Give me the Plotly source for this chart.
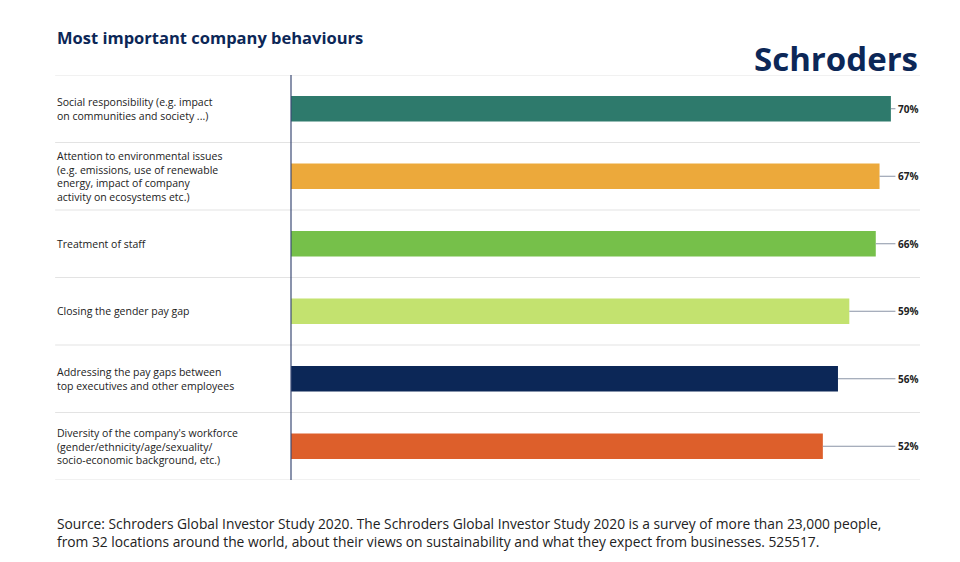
import plotly.graph_objects as go

categories = [
    "Social responsibility (e.g. impact<br>on communities and society ...)",
    "Attention to environmental issues<br>(e.g. emissions, use of renewable<br>energy, impact of company<br>activity on ecosystems etc.)",
    "Treatment of staff",
    "Closing the gender pay gap",
    "Addressing the pay gaps between<br>top executives and other employees",
    "Diversity of the company's workforce<br>(gender/ethnicity/age/sexuality/<br>socio-economic background, etc.)",
]
values = [70, 67, 66, 59, 56, 52]
colors = ["#2e7a6c", "#eca93b", "#76c04a", "#c3e26f", "#0c2757", "#dd5f2b"]

# axis of the original does not start at zero
axis_start = -88.7
axis_end = 77.7

ypos = list(range(len(categories)))

fig = go.Figure()
fig.add_trace(go.Bar(
    x=[v - axis_start for v in values], y=ypos, base=axis_start, orientation="h",
    marker=dict(color=colors, line=dict(width=0)),
    width=0.38, hoverinfo="skip",
))

lx = -0.375  # paper x of the left labels
for i, v in enumerate(values):
    fig.add_shape(type="line", x0=v, x1=71.2, y0=i, y1=i,
                  line=dict(color="#8a94a6", width=1))
    fig.add_annotation(x=71.4, y=i, text=f"<b>{v}%</b>", showarrow=False,
                       xanchor="left", font=dict(size=10, color="#222"))
    fig.add_annotation(x=lx, xref="paper", y=i, text=categories[i],
                       showarrow=False, xanchor="left", align="left",
                       font=dict(size=10.5, color="#222"))

# row separators
for k in range(len(categories) + 1):
    fig.add_shape(type="line", xref="paper", x0=lx, x1=1, y0=k - 0.5, y1=k - 0.5,
                  line=dict(color="#e3e3e3", width=1))

fig.add_shape(type="line", xref="paper", x0=0, x1=0, y0=-0.5, y1=5.5,
              line=dict(color="#3b4a75", width=1.2))

fig.add_annotation(xref="paper", yref="paper", x=lx, y=1.0, yshift=51,
                   text="<b>Most important company behaviours</b>", showarrow=False,
                   xanchor="left", font=dict(size=16.5, color="#0c2757"))
fig.add_annotation(xref="paper", yref="paper", x=1.0, y=1.0, yshift=41,
                   text="<b>Schroders</b>", showarrow=False, xanchor="right",
                   font=dict(size=33, color="#0c2757"))
fig.add_annotation(
    xref="paper", yref="paper", x=lx, y=0, yshift=-32, yanchor="top",
    text="Source: Schroders Global Investor Study 2020. The Schroders Global Investor Study 2020 is a survey of more than 23,000 people,<br>"
         "from 32 locations around the world, about their views on sustainability and what they expect from businesses. 525517.",
    showarrow=False, xanchor="left", align="left", font=dict(size=13.8, color="#222"))

fig.update_layout(
    width=944, height=546,
    margin=dict(l=283, r=32, t=67, b=74),
    paper_bgcolor="white", plot_bgcolor="white",
    font=dict(family="Open Sans"),
    showlegend=False,
    xaxis=dict(range=[axis_start, axis_end], visible=False),
    yaxis=dict(range=[5.5, -0.5], visible=False),
)

fig.write_html("out.html")
